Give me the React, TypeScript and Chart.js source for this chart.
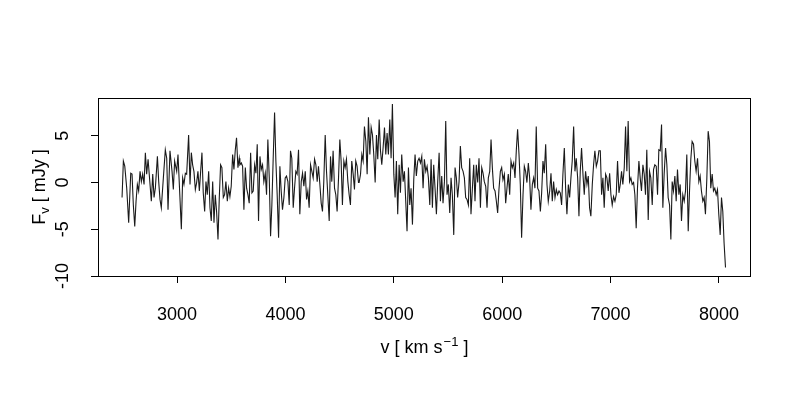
import React, { useEffect, useRef } from 'react';
import { Chart, registerables } from 'chart.js';

Chart.register(...registerables);

// Spectrum: velocity (km/s) and flux density (mJy)
const velocity = [
  2493, 2505, 2518, 2536, 2554, 2573, 2585, 2597, 2610, 2622, 2634, 2646, 2659, 2671, 2683, 2696, 2708, 2720, 2733, 2751, 2763, 2776, 2788, 2800, 2819, 2831, 2843, 2855, 2874, 2892, 2905, 2917, 2935, 2954, 2966, 2978, 2997, 3009,
  3040, 3052, 3064, 3077, 3089, 3107, 3120, 3132, 3144, 3156, 3169, 3181, 3193, 3206, 3218, 3230, 3242, 3255, 3267, 3279, 3292, 3304, 3316, 3329, 3341, 3353, 3365, 3378, 3390, 3402, 3414, 3427, 3439, 3451, 3464, 3476, 3488, 3500, 3513, 3525, 3537, 3549, 3562, 3574,
  3580, 3593, 3605, 3617, 3630, 3642, 3654, 3666, 3679, 3691, 3703, 3716, 3728, 3740, 3752, 3765, 3777, 3789, 3801, 3814, 3826, 3838, 3851, 3863, 3875, 3887, 3900, 3912, 3924, 3937, 3949, 3961, 3973, 3986, 3998, 4010, 4023, 4035, 4047, 4059, 4072, 4084, 4096, 4108, 4121,
  4133, 4146, 4158, 4170, 4183, 4195, 4207, 4219, 4232, 4244, 4256, 4269, 4281, 4293, 4305, 4318, 4330, 4342, 4354, 4367, 4379, 4391, 4404, 4416, 4428, 4440, 4453, 4465, 4477, 4490, 4502, 4514, 4526, 4539, 4551, 4563, 4576, 4588, 4600, 4612, 4625, 4637, 4649, 4661, 4674,
  4680, 4693, 4705, 4717, 4729, 4742, 4754, 4766, 4779, 4791, 4803, 4815, 4828, 4840, 4852, 4865, 4877, 4889, 4901, 4914, 4926, 4938, 4950, 4963, 4975, 4987, 5000, 5012, 5024, 5036, 5049, 5061, 5073, 5086, 5098, 5110, 5122, 5135, 5147, 5159, 5172, 5184, 5196, 5208, 5221, 5233,
  5246, 5258, 5270, 5282, 5295, 5307, 5319, 5332, 5344, 5356, 5368, 5381, 5393, 5405, 5418, 5430, 5442, 5454, 5467, 5479, 5491, 5503, 5516, 5528, 5540, 5553, 5565, 5577, 5589, 5602, 5614, 5626, 5639, 5651, 5663, 5675, 5688, 5700, 5712, 5725, 5737, 5749, 5761, 5774, 5786,
  5799, 5811, 5823, 5835, 5848, 5860, 5872, 5885, 5897, 5909, 5921, 5934, 5946, 5958, 5970, 5983, 5995, 6007, 6020, 6032, 6044, 6056, 6069, 6081, 6093, 6106, 6118, 6130, 6142, 6155, 6167, 6179, 6192, 6204, 6216, 6228, 6241, 6253, 6265, 6278, 6290, 6302, 6314, 6327, 6339,
  6352, 6364, 6376, 6388, 6401, 6413, 6425, 6438, 6450, 6462, 6474, 6487, 6499, 6511, 6524, 6536, 6548, 6560, 6573, 6585, 6597, 6610, 6622, 6634, 6646, 6659, 6671, 6683, 6696, 6708, 6720, 6732, 6745, 6757, 6769, 6782, 6794, 6806, 6818, 6831, 6843, 6855, 6868, 6880, 6892,
  6905, 6917, 6929, 6941, 6954, 6966, 6978, 6991, 7003, 7015, 7027, 7040, 7052, 7064, 7077, 7089, 7101, 7113, 7126, 7138, 7150, 7162, 7175, 7187, 7199, 7212, 7224, 7236, 7248, 7261, 7273, 7285, 7298, 7310, 7322, 7334, 7347, 7359, 7371, 7384, 7396, 7408, 7421, 7433, 7445,
  7458, 7470, 7482, 7494, 7507, 7519, 7531, 7544, 7556, 7568, 7580, 7593, 7605, 7617, 7630, 7642, 7654, 7666, 7679, 7691, 7703, 7716, 7728, 7740, 7752, 7765, 7777, 7789, 7802, 7814, 7826, 7838, 7851, 7863, 7875, 7888, 7900, 7912, 7924, 7937, 7949, 7961, 7974, 7986, 7998, 8011, 8023, 8035, 8047, 8060,
];

const flux = [
  -1.6, 2.3, 1.75, -0.6, -4.3, 1.0, 0.9, -2.4, -4.7, -2.0, -0.2, -0.9, 1.2, 0.1, 0.9, -0.2, 3.2, 0.9, 2.5, -0.2, -2.0, 0.9, -1.6, -0.6, 2.8, 0.1, -1.8, -2.7, 0.5, 3.5, 2.6, -2.9, 3.4, 1.2, -0.75, 2.3, 1.2, 3.0,
  -5.0, 0.5, -0.2, 1.0, 0.9, 5.1, -0.2, 3.2, 1.9, 1.2, -0.75, 0, 1.2, -0.9, 1.2, 3.2, -1.1, -3.1, 0.1, -1.3, 1.2, -2.7, -4.1, 0.1, -4.3, -1.3, -3.1, -6.1, -1.6, 1.9, 1.6, -1.6, -1.3, 0.1, -2.0, -0.6, -1.5, -0.4, 3.0, 1.4, 3.4, 4.8, 1.6, 2.6,
  1.9, 2.1, 1.75, -2.9, 1.6, -0.6, -1.3, -2.2, 3.2, -1.1, -0.9, 1.9, 1.0, 4.1, -4.1, 2.8, 1.4, 1.9, 0.1, 1.0, -1.3, 4.6, 0.5, -5.75, -2.4, 2.5, 7.5, 2.3, -1.3, -5.9, 1.75, -0.9, -2.9, -1.6, 0.5, 0.7, 0.1, -2.4, 3.4, 2.6, -2.7, -0.6, 1.2, 0.9, 3.5,
  -3.4, 0.1, 1.0, -0.4, 1.2, -1.8, -0.9, -2.7, 1.9, 1.2, 0.5, 2.5, 1.9, 0.1, 1.75, -0.2, -2.2, -3.1, 0.1, 5.1, 1.2, -1.3, -4.1, 2.8, 0.1, 3.4, -0.6, -1.3, -3.1, 0.5, 4.6, 2.3, -2.4, 2.3, 1.6, 2.5, 0.1, -1.3, -2.4, 2.3, 0.9, -0.75, 2.3, 1.75, 0,
  0, 0.9, 3.0, 2.3, 6.0, 4.4, 0.9, 7.0, 3.0, 5.9, 5.1, 3.0, 0, 5.1, 2.5, 6.75, 3.4, 1.9, 3.7, 5.9, 3.0, 5.3, 3.0, 6.75, 2.6, 8.4, 0.9, -1.6, 2.3, -3.4, 1.9, -1.1, 3.0, 0.1, 1.2, -2.0, -5.2, 1.6, -2.4, -0.6, -4.5, 0.3, 3.0, 0.7, 2.3, 2.6,
  2.1, 2.8, -0.6, 2.5, 1.2, 1.75, 0.5, -2.4, 2.5, -2.7, 1.9, -0.75, -3.4, 0.1, 3.2, -2.0, 0.7, -2.2, 0.1, 6.6, -1.3, -0.2, -3.25, 0.5, -1.3, -5.6, 1.6, 0.5, -1.6, 0.1, 3.9, 1.6, 1.2, 0.5, -1.6, -1.8, -2.4, 2.6, -3.4, -0.6, 1.9, -2.0, 1.9, 0, 2.6,
  -2.7, 1.6, 1.0, 0.1, -0.4, -2.7, 0.5, 1.2, 4.6, 1.6, -0.6, -0.9, -2.0, -3.25, -0.75, 1.2, 1.6, 0.3, 0.9, -2.2, -0.6, 0.9, -1.3, 2.3, 1.6, 2.1, 0.5, 3.4, 5.7, 3.0, -0.2, -5.9, -1.3, 1.75, 1.2, 0, 2.1, 0.5, -2.9, -0.2, 0.5, -0.6, 6.0, -0.6, -0.9,
  -3.1, -1.1, 2.3, 1.0, 4.1, -0.2, -2.0, -0.9, 1.0, -2.0, 0.1, -1.6, -0.75, -1.3, -0.9, -1.1, -2.4, 0.9, 3.7, -0.6, -3.4, -0.2, -1.6, 0.5, 2.3, 6.0, 1.2, 2.6, 0.5, -3.6, 1.2, 3.7, 0.9, -1.3, 1.2, -0.2, 0.7, -2.7, -3.6, -0.2, 1.9, 3.4, 1.75, 2.3, 3.4,
  3.4, -1.3, 0.5, -2.7, 0.9, 0.5, -0.9, 1.0, -1.3, -2.4, -1.5, -2.0, -1.3, 2.3, -1.1, -0.2, 1.2, -0.2, 1.6, 6.0, 1.2, 6.6, 0.1, 0.5, -0.2, 0, -1.3, -4.9, -0.6, 2.3, 0.5, -0.9, 1.9, 0.9, -1.3, 3.5, -4.0, 1.2, 0.5, -2.4, 1.4, 1.9, 1.75, -1.3, 3.5,
  3.4, 6.2, -2.7, 0.9, 3.7, 1.9, -1.6, -2.4, -6.1, 0.1, -0.9, 0.7, -2.0, 1.4, -1.3, -0.2, -4.1, -1.3, -2.0, -0.9, 3.0, -5.2, -0.9, 2.5, 4.4, 4.1, 2.3, 1.2, 2.6, 0.1, 0.7, -0.9, -2.0, -1.6, -3.4, 0.5, 5.5, 4.4, -0.6, 0.9, -0.9, -0.6, -1.3, -0.75, -3.4, -5.6, -1.6, -3.1, -6.5, -9.1,
];

const xTickValues = [3000, 4000, 5000, 6000, 7000, 8000];
const xTickLabels = ['3000', '4000', '5000', '6000', '7000', '8000'];
const yTickValues = [-10, -5, 0, 5];
const yTickLabels = ['-10', '-5', '0', '5'];

const xTitle = { main: 'v [ km s', sup: '\u22121', end: ' ]' };
const yTitle = { main: 'F', sub: 'v', end: ' [ mJy ]' };

const X_MIN = 2271;
const X_MAX = 8286;
const Y_MIN = -10;
const Y_MAX = 9.05;

const FONT = '"Liberation Sans", Arial, Helvetica, sans-serif';
const FS = 18;
const FS_SMALL = 13;

const boxAndTitles = {
  id: 'boxAndTitles',
  afterDraw(chart: any) {
    const { ctx, chartArea } = chart;
    const { left, right, top, bottom } = chartArea;
    ctx.save();
    ctx.strokeStyle = '#000';
    ctx.lineWidth = 1;
    const l = Math.round(left) + 0.5;
    const t = Math.round(top) + 0.5;
    const r = Math.round(right) + 0.5;
    const b = Math.round(bottom) + 0.5;
    ctx.strokeRect(l, t, r - l, b - t);

    ctx.fillStyle = '#000';
    ctx.textBaseline = 'alphabetic';
    ctx.textAlign = 'left';

    const big = `${FS}px ${FONT}`;
    const small = `${FS_SMALL}px ${FONT}`;

    // x title
    ctx.font = big;
    const w1 = ctx.measureText(xTitle.main).width;
    const w3 = ctx.measureText(xTitle.end).width;
    ctx.font = small;
    const w2 = ctx.measureText(xTitle.sup).width;
    const totalX = w1 + w2 + w3;
    const cx = (left + right) / 2;
    const by = 353;
    const x0 = cx - totalX / 2;
    ctx.font = big;
    ctx.fillText(xTitle.main, x0, by);
    ctx.font = small;
    ctx.fillText(xTitle.sup, x0 + w1 + 1, by - 7);
    ctx.font = big;
    ctx.fillText(xTitle.end, x0 + w1 + w2 + 1, by);

    // y title (rotated)
    ctx.font = big;
    const v1 = ctx.measureText(yTitle.main).width;
    const v3 = ctx.measureText(yTitle.end).width;
    ctx.font = small;
    const v2 = ctx.measureText(yTitle.sub).width;
    const totalY = v1 + v2 + v3;
    const cy = (top + bottom) / 2;
    ctx.translate(45, cy);
    ctx.rotate(-Math.PI / 2);
    const y0 = -totalY / 2;
    ctx.font = big;
    ctx.fillText(yTitle.main, y0, 0);
    ctx.font = small;
    ctx.fillText(yTitle.sub, y0 + v1, 4);
    ctx.font = big;
    ctx.fillText(yTitle.end, y0 + v1 + v2, 0);
    ctx.restore();
  },
};

export default function App() {
  const canvasRef = useRef<HTMLCanvasElement | null>(null);

  useEffect(() => {
    document.body.style.margin = '0';
    const canvas = canvasRef.current;
    if (!canvas) return;
    const points = velocity.map((v, i) => ({ x: v, y: flux[i] }));
    const chart = new Chart(canvas, {
      type: 'line',
      data: {
        datasets: [
          {
            data: points,
            borderColor: '#1a1a1a',
            borderWidth: 1.1,
            pointRadius: 0,
            tension: 0,
            fill: false,
          },
        ],
      },
      options: {
        responsive: false,
        animation: false,
        events: [],
        layout: { padding: { left: 0, top: 98, right: 50, bottom: 0 } },
        plugins: {
          legend: { display: false },
          tooltip: { enabled: false },
          title: { display: false },
        },
        scales: {
          x: {
            type: 'linear',
            min: X_MIN,
            max: X_MAX,
            afterBuildTicks: (axis: any) => {
              axis.ticks = xTickValues.map((value) => ({ value }));
            },
            afterFit: (axis: any) => {
              axis.height = 124;
              axis.paddingLeft = 0;
              axis.paddingRight = 0;
            },
            border: { display: false },
            grid: {
              display: true,
              drawOnChartArea: false,
              drawTicks: true,
              tickLength: 7,
              color: '#000',
              lineWidth: 1,
            },
            ticks: {
              color: '#000',
              font: { family: FONT, size: FS },
              padding: 21,
              minRotation: 0,
              maxRotation: 0,
              autoSkip: false,
              callback: (value: any) => {
                const i = xTickValues.indexOf(Number(value));
                return i >= 0 ? xTickLabels[i] : '';
              },
            },
          },
          y: {
            type: 'linear',
            min: Y_MIN,
            max: Y_MAX,
            afterBuildTicks: (axis: any) => {
              axis.ticks = yTickValues.map((value) => ({ value }));
            },
            afterFit: (axis: any) => {
              axis.width = 98;
              axis.paddingTop = 0;
              axis.paddingBottom = 0;
            },
            border: { display: false },
            grid: {
              display: true,
              drawOnChartArea: false,
              drawTicks: true,
              tickLength: 7,
              color: '#000',
              lineWidth: 1,
            },
            ticks: {
              color: '#000',
              font: { family: FONT, size: FS },
              padding: 15,
              minRotation: 90,
              maxRotation: 90,
              crossAlign: 'center',
              autoSkip: false,
              callback: (value: any) => {
                const i = yTickValues.indexOf(Number(value));
                return i >= 0 ? yTickLabels[i] : '';
              },
            },
          },
        },
      } as any,
      plugins: [boxAndTitles],
    });
    return () => chart.destroy();
  }, []);

  return (
    <div style={{ position: 'absolute', left: 0, top: 0, width: 800, height: 400, background: '#fff' }}>
      <canvas ref={canvasRef} width={800} height={400} />
    </div>
  );
}
